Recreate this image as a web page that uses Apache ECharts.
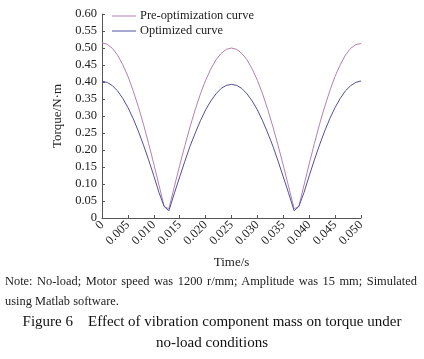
<!DOCTYPE html>
<html>
<head>
<meta charset="utf-8">
<script src="https://cdn.jsdelivr.net/npm/echarts@6/dist/echarts.min.js"></script>
<style>
  html, body { margin: 0; padding: 0; background: #fff; }
  #wrap { position: relative; width: 424px; height: 359px; overflow: hidden; }
  #chart { position: absolute; left: 0; top: 0; width: 424px; height: 359px; }
  #note { position: absolute; left: 5px; width: 412px; top: 271px; font-family: "Liberation Serif", "DejaVu Serif", serif; font-size: 12.4px; line-height: 20px; color: #222; text-align: justify; text-align-last: left; }
  #cap { position: absolute; left: 0; width: 424px; top: 311px; font-family: "Liberation Serif", "DejaVu Serif", serif; font-size: 15px; line-height: 21px; color: #111; text-align: center; white-space: pre; }
</style>
</head>
<body>
<div id="wrap">
  <div id="chart"></div>
  <div id="note">Note: No-load; Motor speed was 1200 r/mm; Amplitude was 15 mm; Simulated using Matlab software.</div>
  <div id="cap">Figure 6    Effect of vibration component mass on torque under
no-load conditions</div>
</div>
<script>
var seriesNames = ["Pre-optimization curve", "Optimized curve"];
var timeValues = [0, 0.001, 0.002, 0.003, 0.004, 0.005, 0.006, 0.007, 0.008, 0.009, 0.010, 0.011, 0.012, 0.0129,
  0.014, 0.015, 0.016, 0.017, 0.018, 0.019, 0.020, 0.021, 0.022, 0.023, 0.024, 0.025,
  0.026, 0.027, 0.028, 0.029, 0.030, 0.031, 0.032, 0.033, 0.034, 0.035, 0.036, 0.0371,
  0.038, 0.039, 0.040, 0.041, 0.042, 0.043, 0.044, 0.045, 0.046, 0.047, 0.048, 0.049, 0.050];
var preValues = [0.515, 0.511, 0.499, 0.479, 0.451, 0.417, 0.375, 0.328, 0.276, 0.219, 0.159, 0.097, 0.034, 0.027,
  0.094, 0.155, 0.213, 0.268, 0.319, 0.365, 0.405, 0.438, 0.465, 0.484, 0.496, 0.500,
  0.496, 0.484, 0.465, 0.438, 0.405, 0.365, 0.319, 0.268, 0.213, 0.155, 0.094, 0.027,
  0.034, 0.097, 0.159, 0.219, 0.276, 0.328, 0.375, 0.417, 0.451, 0.479, 0.499, 0.510, 0.513];
var optValues = [0.402, 0.399, 0.389, 0.374, 0.352, 0.325, 0.293, 0.256, 0.215, 0.171, 0.124, 0.075, 0.034, 0.021,
  0.074, 0.121, 0.167, 0.211, 0.250, 0.286, 0.318, 0.344, 0.365, 0.381, 0.390, 0.393,
  0.390, 0.381, 0.365, 0.344, 0.318, 0.286, 0.250, 0.211, 0.167, 0.121, 0.074, 0.021,
  0.034, 0.075, 0.124, 0.171, 0.215, 0.256, 0.293, 0.325, 0.352, 0.374, 0.389, 0.399, 0.403];
var xTicks = {min: 0, max: 0.05, interval: 0.005};
var yTicks = {min: 0, max: 0.6, interval: 0.05};

function pairs(xs, ys) { return xs.map(function (x, i) { return [x, ys[i]]; }); }

var font = '"Liberation Serif", "DejaVu Serif", serif';
var axisColor = '#555';
var chart = echarts.init(document.getElementById('chart'), null, {renderer: 'canvas'});
chart.setOption({
  animation: false,
  textStyle: {fontFamily: font},
  grid: {left: 102, right: 63, top: 14, height: 204, containLabel: false, outerBoundsMode: 'none'},
  legend: {
    left: 107, top: 5, orient: 'vertical', itemGap: 3,
    icon: 'rect', itemWidth: 24, itemHeight: 1,
    textStyle: {fontFamily: font, fontSize: 12.4, color: '#222', padding: [0, 0, 0, -1]},
    data: seriesNames
  },
  xAxis: {
    type: 'value', min: xTicks.min, max: xTicks.max, interval: xTicks.interval,
    name: 'Time/s', nameLocation: 'middle', nameGap: 38,
    nameTextStyle: {fontFamily: font, fontSize: 13, color: '#222'},
    axisLine: {lineStyle: {color: axisColor, width: 1}},
    axisTick: {inside: true, length: 3, lineStyle: {color: axisColor}},
    splitLine: {show: false},
    axisLabel: {
      rotate: 45, margin: 5, fontFamily: font, fontSize: 12.5, color: '#222',
      hideOverlap: false,
      formatter: function (v) { return v === 0 ? '0' : v.toFixed(3); }
    }
  },
  yAxis: {
    type: 'value', min: yTicks.min, max: yTicks.max, interval: yTicks.interval,
    name: 'Torque/N·m', nameLocation: 'middle', nameGap: 31, nameRotate: 90,
    nameTextStyle: {fontFamily: font, fontSize: 13, color: '#222'},
    axisLine: {show: true, lineStyle: {color: axisColor, width: 1}},
    axisTick: {show: true, inside: true, length: 3, lineStyle: {color: axisColor}},
    splitLine: {show: false},
    axisLabel: {
      margin: 5, fontFamily: font, fontSize: 12.5, color: '#222',
      hideOverlap: false,
      formatter: function (v) { return v === 0 ? '0' : v.toFixed(2); }
    }
  },
  series: [
    {name: seriesNames[0], type: 'line', symbol: 'none', smooth: false,
     lineStyle: {color: '#b57fae', width: 1}, itemStyle: {color: '#b57fae'},
     data: pairs(timeValues, preValues)},
    {name: seriesNames[1], type: 'line', symbol: 'none', smooth: false,
     lineStyle: {color: '#4f4f9e', width: 1}, itemStyle: {color: '#4f4f9e'},
     data: pairs(timeValues, optValues)}
  ]
});
</script>
</body>
</html>
